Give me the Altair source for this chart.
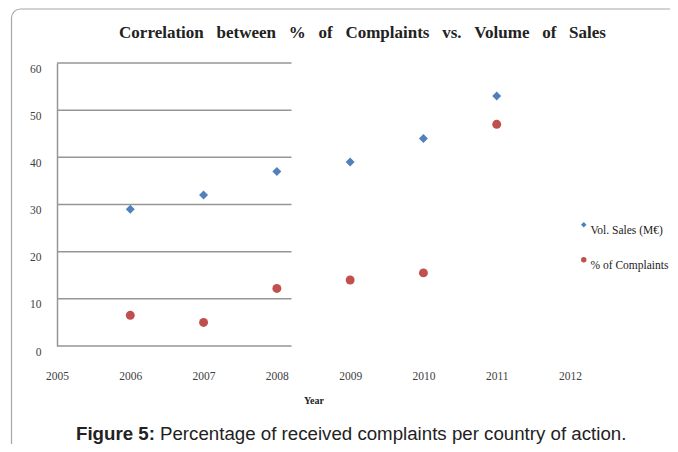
import altair as alt
import pandas as pd

years = [2006, 2007, 2008, 2009, 2010, 2011]
vol_sales = [29, 32, 37, 39, 44, 53]
complaints = [6.5, 5, 12.2, 14, 15.5, 47]
series_names = ["Vol. Sales (M€)", "% of Complaints"]
series_colors = ["#4F81BD", "#C0504D"]
series_shapes = ["diamond", "circle"]
x_ticks = [2005, 2006, 2007, 2008, 2009, 2010, 2011, 2012]
y_ticks = [0, 10, 20, 30, 40, 50, 60]

title_words = ["Correlation", "between", "%", "of", "Complaints", "vs.", "Volume", "of", "Sales"]
title_text = " \u00a0\u00a0".join(title_words)
caption_bold = "Figure 5:"
caption_rest = "Percentage of received complaints per country of action."

rows = []
for y, v in zip(years, vol_sales):
    rows.append({"year": y, "series": series_names[0], "value": v})
for y, v in zip(years, complaints):
    rows.append({"year": y, "series": series_names[1], "value": v})
df = pd.DataFrame(rows)
grid_df = pd.DataFrame({"v": y_ticks})
one = alt.Data(values=[{"a": 1}])

SERIF = "Liberation Serif"
SANS = "Liberation Sans"

xscale = alt.Scale(domain=[2005, 2012], nice=False, zero=False)
yscale = alt.Scale(domain=[0, 60], nice=False)

grid = alt.Chart(grid_df).mark_rule(color="#969696", strokeWidth=1.5).encode(
    y=alt.Y("v:Q", scale=yscale, axis=alt.Axis(
        values=y_ticks, title=None, grid=False, ticks=False,
        domain=True, domainColor="#969696", domainWidth=1.5,
        labelFont=SERIF, labelFontSize=11.5, labelColor="#404040",
        labelPadding=16, labelBaseline="top")),
    x=alt.datum(2005),
    x2=alt.datum(2008.2),
)

legend_cfg = dict(title=None, orient="none", legendX=521, legendY=156,
                  labelFont=SERIF, labelFontSize=11.5, labelColor="#222222",
                  labelBaseline="top", labelOffset=1, symbolSize=30,
                  rowPadding=17, padding=0, labelLimit=200)

points = alt.Chart(df).mark_point(filled=True, opacity=1, strokeWidth=0).encode(
    x=alt.X("year:Q", scale=xscale, axis=alt.Axis(
        values=x_ticks, format="d", title="Year", grid=False, ticks=False,
        domain=False, labelFlush=False, labelFont=SERIF, labelFontSize=11.5,
        labelColor="#404040", labelPadding=24, titleFont=SERIF, titleFontSize=10,
        titleFontWeight="bold", titleColor="#222222", titlePadding=14)),
    y=alt.Y("value:Q", scale=yscale),
    color=alt.Color("series:N", scale=alt.Scale(domain=series_names, range=series_colors),
                    legend=alt.Legend(**legend_cfg)),
    shape=alt.Shape("series:N", scale=alt.Scale(domain=series_names, range=series_shapes),
                    legend=alt.Legend(**legend_cfg)),
    size=alt.value(80),
)

frame = alt.Chart(one).mark_rect(filled=False, stroke="#a6a6a6", strokeWidth=1.2,
                                 cornerRadius=9).encode(
    x=alt.value(-45.5), x2=alt.value(640), y=alt.value(-54), y2=alt.value(420))

title = alt.Chart(one).mark_text(text=title_text, font=SERIF, fontWeight="bold",
                                 fontSize=17, color="#222222", align="center",
                                 baseline="middle").encode(
    x=alt.value(305.5), y=alt.value(-30))

cap1 = alt.Chart(one).mark_text(text=caption_bold, font=SANS, fontWeight="bold",
                                fontSize=18.7, color="#222222", align="left",
                                baseline="alphabetic").encode(
    x=alt.value(19), y=alt.value(376.5))
cap2 = alt.Chart(one).mark_text(text=caption_rest, font=SANS, fontSize=18.7,
                                color="#222222", align="left",
                                baseline="alphabetic").encode(
    x=alt.value(103), y=alt.value(376.5))

chart = alt.layer(frame, grid, points, title, cap1, cap2).properties(
    width=513, height=283,
    autosize=alt.AutoSizeParams(type="none"),
    padding={"left": 49, "top": 55, "right": 100, "bottom": 98},
    background="white",
).configure_view(strokeWidth=0)

chart.save("out.html", embed_options={"renderer": "svg", "actions": False})
